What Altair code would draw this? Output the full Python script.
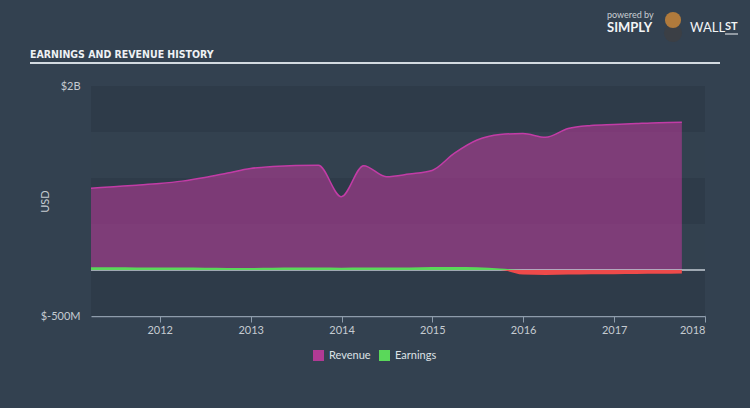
import altair as alt
import pandas as pd

# ---------------- data ----------------
dates = [
    "2011-03-31", "2011-06-30", "2011-09-30", "2011-12-31",
    "2012-03-31", "2012-06-30", "2012-09-30", "2012-12-31",
    "2013-03-31", "2013-06-30", "2013-09-30", "2013-12-31",
    "2014-03-31", "2014-06-30", "2014-09-30", "2014-12-31",
    "2015-03-31", "2015-06-30", "2015-09-30", "2015-12-31",
    "2016-03-31", "2016-06-30", "2016-09-30", "2016-12-31",
    "2017-03-31", "2017-06-30", "2017-09-30",
]
# USD billions
revenue = [
    0.888, 0.905, 0.922, 0.940,
    0.966, 1.005, 1.054, 1.103,
    1.124, 1.135, 1.138, 0.797,
    1.134, 1.014, 1.043, 1.082,
    1.270, 1.413, 1.473, 1.484,
    1.442, 1.538, 1.571, 1.582,
    1.592, 1.601, 1.605,
]
earnings = [
    0.030, 0.029, 0.028, 0.028,
    0.026, 0.024, 0.023, 0.023,
    0.024, 0.026, 0.027, 0.025,
    0.027, 0.026, 0.027, 0.032,
    0.032, 0.029, 0.015, -0.050,
    -0.055, -0.050, -0.046, -0.045,
    -0.044, -0.042, -0.038,
]
band_lo = [1.5, 0.5, -0.5]
band_hi = [2.0, 1.0, 0.0]
y_ticks = [-0.5, 2.0]
series_names = ["Revenue", "Earnings", "Loss"]
series_colors = ["#b03a94", "#5ad85a", "#ee4a4a"]
legend_names = ["Revenue", "Earnings"]

# ---------------- frames ----------------
rev_df = pd.DataFrame({"date": dates, "value": revenue, "series": "Revenue"})
earn = pd.Series(earnings)
pos_df = pd.DataFrame({"date": dates, "value": earn.clip(lower=0), "series": "Earnings"})
neg_df = pd.DataFrame({"date": dates, "value": earn.clip(upper=0), "series": "Loss"})
band_df = pd.DataFrame({"lo": band_lo, "hi": band_hi})

FONT = "Lato"
LABEL = "#c5cbd1"

y_scale = alt.Scale(domain=[-0.5, 2.0], nice=False, zero=False)
x_scale = alt.Scale(
    type="utc",
    domain=[alt.DateTime(year=2011, month=3, date=31, utc=True),
            alt.DateTime(year=2018, month=1, date=1, utc=True)],
    nice=False,
)
y_axis = alt.Axis(
    values=y_ticks,
    labelExpr="datum.value >= 2 ? '$2B' : '$-500M'",
    ticks=False, domain=False, grid=False,
    labelPadding=11, labelFontSize=11, labelColor=LABEL, labelFont=FONT,
    title="USD", titleColor=LABEL, titleFont=FONT, titleFontSize=11,
    titleFontWeight="normal", titleX=-46, titleY=115, titleAngle=270,
    titleAlign="center", titleBaseline="middle",
)
x_axis = alt.Axis(
    format="%Y", tickCount=alt.TimeIntervalStep(interval="year", step=1),
    grid=False, tickSize=6, tickColor="#8e9cab", domainColor="#8e9cab",
    domainWidth=1.5, labelColor=LABEL, labelFont=FONT, labelFontSize=11,
    labelPadding=2, title=None,
)
color = alt.Color(
    "series:N",
    scale=alt.Scale(domain=series_names, range=series_colors),
    legend=alt.Legend(
        values=legend_names, orient="none", legendX=222, legendY=264,
        direction="horizontal", title=None, symbolType="square",
        symbolSize=121, symbolStrokeWidth=0, symbolOpacity=1,
        labelFont=FONT, labelFontSize=11, labelColor="#dde2e6",
        labelOffset=5, columnPadding=8,
    ),
)

bands = alt.Chart(band_df).mark_rect(color="#2e3b49").encode(
    x=alt.value(0), x2=alt.value("width"),
    y=alt.Y("lo:Q", scale=y_scale, axis=y_axis),
    y2="hi:Q",
)

rev_area = alt.Chart(rev_df).mark_area(interpolate="monotone", fillOpacity=0.6).encode(
    x=alt.X("date:T", scale=x_scale, axis=x_axis),
    y=alt.Y("value:Q", scale=y_scale, axis=y_axis),
    color=color,
)
rev_line = alt.Chart(rev_df).mark_line(interpolate="monotone", strokeWidth=1.5).encode(
    x=alt.X("date:T", scale=x_scale, axis=x_axis),
    y=alt.Y("value:Q", scale=y_scale, axis=y_axis),
    color=alt.value("#c23ca6"),
)
pos_area = alt.Chart(pos_df).mark_area(interpolate="monotone", fillOpacity=1).encode(
    x=alt.X("date:T", scale=x_scale, axis=x_axis),
    y=alt.Y("value:Q", scale=y_scale, axis=y_axis),
    color=color,
)
neg_area = alt.Chart(neg_df).mark_area(interpolate="monotone", fillOpacity=1).encode(
    x=alt.X("date:T", scale=x_scale, axis=x_axis),
    y=alt.Y("value:Q", scale=y_scale, axis=y_axis),
    color=color,
)
zero_rule = alt.Chart(pd.DataFrame({"z": [0.0]})).mark_rule(
    color="#c4ccd4", strokeWidth=1.5
).encode(y=alt.Y("z:Q", scale=y_scale, axis=y_axis))

# ---------------- header / logo ----------------
one = pd.DataFrame({"k": [0]})
title_txt = alt.Chart(one).mark_text(
    text="EARNINGS AND REVENUE HISTORY", font="DejaVu Sans Condensed",
    fontWeight="bold", fontSize=10.5, color="#eef1f4", align="left", baseline="alphabetic",
).encode(x=alt.value(-61), y=alt.value(-28))
title_rule = alt.Chart(one).mark_rule(color="#d3dae0", strokeWidth=2).encode(
    x=alt.value(-61), x2=alt.value(629), y=alt.value(-23)
)
powered = alt.Chart(one).mark_text(
    text="powered by", font=FONT, fontSize=9, color="#c9ced3", align="left", baseline="middle",
).encode(x=alt.value(516), y=alt.value(-71))
simply = alt.Chart(one).mark_text(
    text="SIMPLY", font=FONT, fontSize=13, fontWeight="bold", color="#f2f4f6",
    align="left", baseline="middle",
).encode(x=alt.value(516), y=alt.value(-58))
wall = alt.Chart(one).mark_text(
    text="WALL", font=FONT, fontSize=13, fontWeight="normal", color="#f2f4f6",
    align="left", baseline="middle",
).encode(x=alt.value(599), y=alt.value(-58))
st = alt.Chart(one).mark_text(
    text="ST", font=FONT, fontSize=11, fontWeight="bold", color="#f2f4f6",
    align="left", baseline="middle",
).encode(x=alt.value(634), y=alt.value(-59))
st_rule = alt.Chart(one).mark_rule(color="#f2f4f6", strokeWidth=1).encode(
    x=alt.value(634), x2=alt.value(647), y=alt.value(-52)
)
bull_body = alt.Chart(one).mark_point(
    shape="circle", filled=True, size=330, color="#3b3f45", opacity=1
).encode(x=alt.value(582), y=alt.value(-53))
bull_head = alt.Chart(one).mark_point(
    shape="circle", filled=True, size=260, color="#b07a3c", opacity=1
).encode(x=alt.value(582), y=alt.value(-66))

chart = alt.layer(
    bands, rev_area, rev_line, zero_rule, pos_area, neg_area,
    title_txt, title_rule, powered, simply, wall, st, st_rule, bull_body, bull_head,
).properties(
    width=614, height=230,
    padding={"left": 91, "top": 86, "right": 45, "bottom": 92},
    autosize="none",
    background="#334150",
).configure_view(fill="#33414f", stroke=None)

chart.save("out.html", embed_options={"renderer": "svg", "actions": False})
